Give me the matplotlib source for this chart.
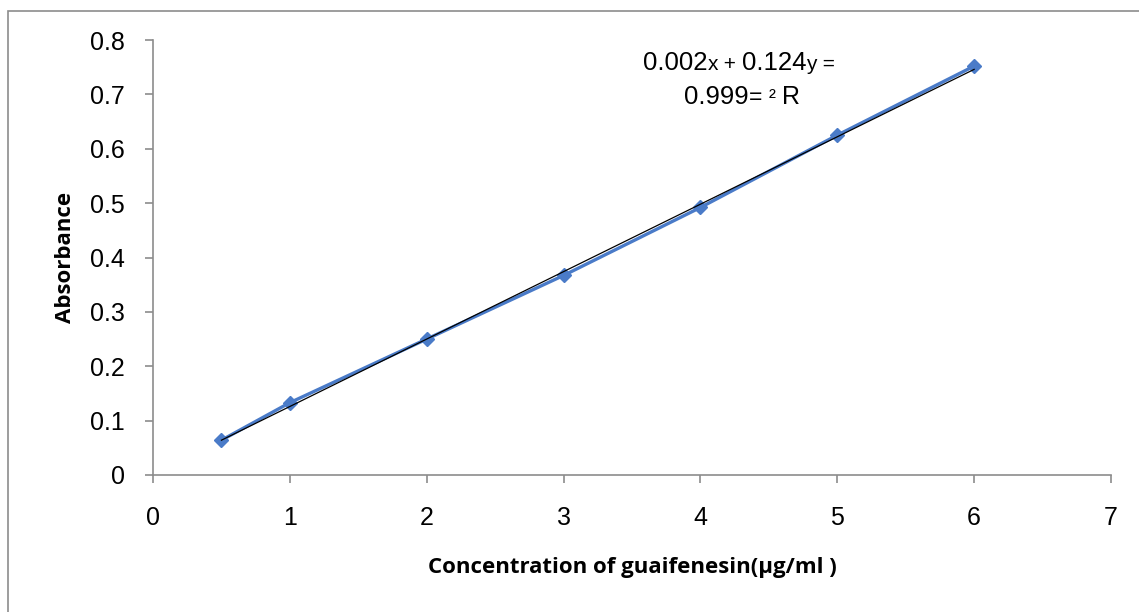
import matplotlib.pyplot as plt
from matplotlib.patches import Rectangle
from matplotlib.offsetbox import TextArea, HPacker, AnnotationBbox

# calibration data
conc = [0.5, 1, 2, 3, 4, 5, 6]
absorbance = [0.064, 0.133, 0.250, 0.367, 0.492, 0.625, 0.752]
slope = 0.124
intercept = 0.002
x_ticks = [0, 1, 2, 3, 4, 5, 6, 7]
y_ticks = [0, 0.1, 0.2, 0.3, 0.4, 0.5, 0.6, 0.7, 0.8]
y_tick_labels = ['0', '0.1', '0.2', '0.3', '0.4', '0.5', '0.6', '0.7', '0.8']

fig = plt.figure(figsize=(11.39, 6.12), dpi=100)
ax = fig.add_axes([153 / 1139, 1 - 475 / 612, (1111 - 153) / 1139, (475 - 40) / 612])

# outer chart border (only top and left visible in the crop)
fig.patches.append(Rectangle((8 / 1139, -0.1), 1.2, 1 - 11 / 612 + 0.1,
                             transform=fig.transFigure, fill=False,
                             edgecolor='#8c8c8c', linewidth=1.2))

ax.plot(conc, absorbance, color='#4a7bc8', linewidth=2.4, marker='D',
        markersize=7.5, zorder=2)
fit_x = [conc[0], conc[-1]]
fit_y = [slope * v + intercept for v in fit_x]
ax.plot(fit_x, fit_y, color='black', linewidth=0.9, zorder=3)

ax.set_xlim(0, 7)
ax.set_ylim(0, 0.8)
ax.set_xticks(x_ticks)
ax.set_yticks(y_ticks)
ax.set_yticklabels(y_tick_labels)
for side in ['top', 'right']:
    ax.spines[side].set_visible(False)
for side in ['left', 'bottom']:
    ax.spines[side].set_color('#8c8c8c')
    ax.spines[side].set_linewidth(1.2)
ax.tick_params(direction='out', length=6, width=1.2, color='#8c8c8c',
               labelsize=18)
for lab in ax.get_xticklabels() + ax.get_yticklabels():
    lab.set_family('Liberation Sans')
ax.tick_params(axis='x', pad=16)
ax.tick_params(axis='y', pad=14)

ax.set_xlabel('Concentration of guaifenesin(µg/ml )', fontsize=16,
              fontweight='bold', family='Open Sans', labelpad=20)
ax.set_ylabel('Absorbance', fontsize=16, fontweight='bold',
              family='Open Sans', labelpad=10)


def eq_line(parts, y):
    areas = [TextArea(t, textprops=dict(fontsize=s, family='Liberation Sans'))
             for t, s in parts]
    box = HPacker(children=areas, align='baseline', pad=0, sep=0)
    ab = AnnotationBbox(box, (742 / 1139, 1 - y / 612), xycoords='figure fraction',
                        frameon=False, box_alignment=(0.5, 0.5))
    fig.add_artist(ab)


eq_line([('0.002', 18.5), ('x', 15), (' + ', 15), ('0.124', 18.5), ('y', 15), (' = ', 15)], 63)
eq_line([('0.999', 18.5), ('= ', 16.5), ('²', 15), (' R', 18)], 97)

fig.savefig('out.png', dpi=100)
